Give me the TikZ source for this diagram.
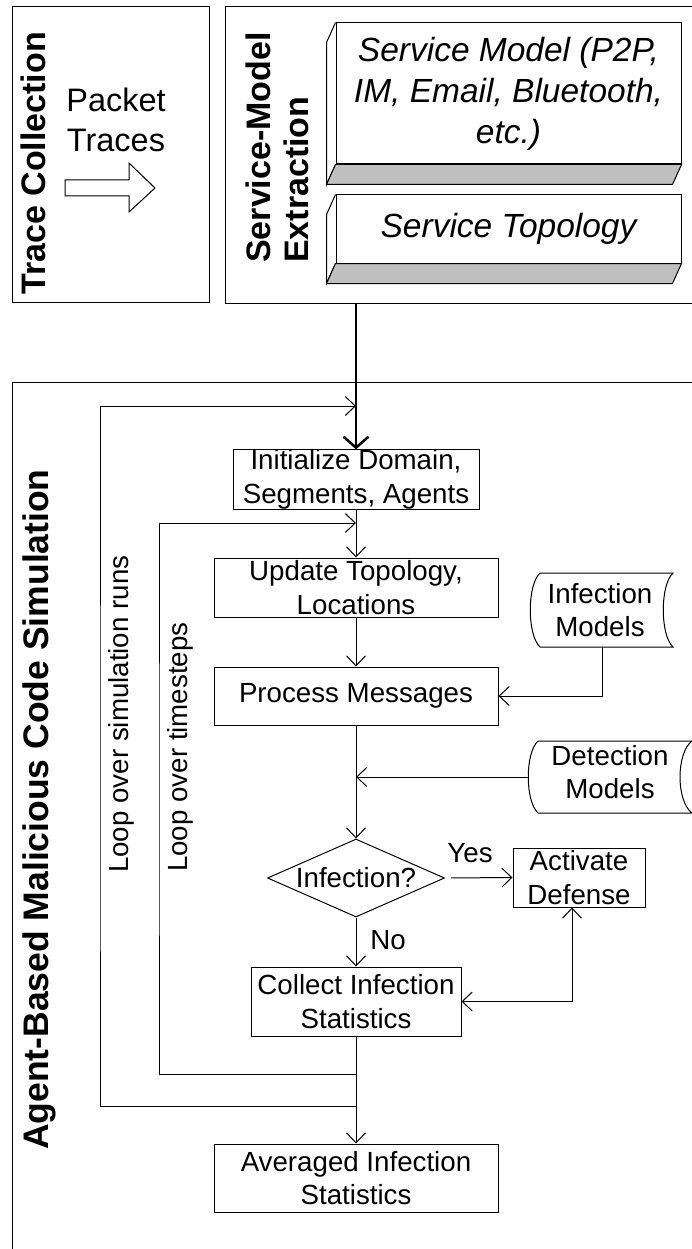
\documentclass[tikz,border=0pt]{standalone}
\usepackage{fontspec}
\setmainfont{Liberation Sans}
\usetikzlibrary{arrows.meta,shapes.geometric,calc}
\newcommand\fsMain{\fontsize{27.7}{33.5}\selectfont}
\newcommand\fsTitle{\fontsize{34}{40}\selectfont\bfseries}
\newcommand\fsBig{\fontsize{35.5}{42}\selectfont\bfseries}
\newcommand\fsIt{\fontsize{33.5}{41}\selectfont\itshape}
\newcommand\fsPkt{\fontsize{32.5}{40}\selectfont}
\definecolor{facegray}{HTML}{C0C0C0}
\begin{document}
\begin{tikzpicture}[x=1pt,y=-1pt,
  >={Straight Barb[length=10pt,width=19pt]},
  line/.style={line width=1pt, draw=black},
  box/.style={draw, line width=1pt, inner sep=0pt, align=center, font=\fsMain},
  arr/.style={line width=1pt, ->},
  thickarr/.style={line width=2.5pt, -{Straight Barb[length=11pt,width=25pt]}},
  vtitle/.style={rotate=90, anchor=base west, inner sep=0pt},
  lbl/.style={inner sep=0pt, font=\fsMain},
  face/.style={draw, line width=1pt, fill=white, inner sep=0pt, align=center, font=\fsIt},
]
\clip (0,0) rectangle (692,1249);
% panels
\draw[line] (12,7) rectangle (209,302);
\draw[line] (225,7) rectangle (760,303);
\draw[line] (12,382) rectangle (760,1300);

% titles
\node[vtitle, font=\fsTitle] (tc) at (45,295) {Trace Collection};
\node[vtitle, font=\fsTitle] (sme1) at (270,263) {Service-Model};
\node[vtitle, font=\fsTitle] (sme2) at (308,263) {Extraction};
\node[vtitle, font=\fsBig] (abm) at (48,1150) {Agent-Based Malicious Code Simulation};

% packet traces
\node[align=center, font=\fsPkt, inner sep=0pt] (pt) at (116,120) {Packet\\Traces};
\draw[line] (65,180) -- (129,180) -- (129,163) -- (155,188) -- (129,212) -- (129,196) -- (65,196) -- cycle;

% 3D boxes
\node[face, minimum width=345pt, minimum height=141pt] (sm) at (508.5,93.5) {Service Model (P2P,\\IM, Email, Bluetooth,\\etc.)};
\draw[line] (sm.north west) -- ++(-9,20) -- ($(sm.south west)+(-9,20)$) -- (sm.south west);
\filldraw[line, fill=facegray] (sm.south west) -- (sm.south east) -- ++(-9,20) -- ($(sm.south west)+(-9,20)$) -- cycle;

\node[face, minimum width=345pt, minimum height=68pt] (st) at (508.5,229) {Service Topology};
\draw[line] (st.north west) -- ++(-9,20) -- ($(st.south west)+(-9,20)$) -- (st.south west);
\filldraw[line, fill=facegray] (st.south west) -- (st.south east) -- ++(-9,20) -- ($(st.south west)+(-9,20)$) -- cycle;

% flow nodes
\node[box, minimum width=246pt, minimum height=59pt] (init) at (356,479.5) {Initialize Domain,\\Segments, Agents};
\node[box, minimum width=284pt, minimum height=59pt] (upd) at (356,587.5) {Update Topology,\\Locations};
\node[box, minimum width=284pt, minimum height=58pt] (proc) at (356,696) {Process Messages};
\node[draw, line width=1pt, diamond, aspect=2.27, minimum width=177pt, minimum height=78pt, inner sep=0pt, font=\fsMain] (dia) at (356,878) {Infection?};
\node[box, minimum width=132pt, minimum height=59pt] (act) at (579,877.5) {Activate\\Defense};
\node[box, minimum width=210pt, minimum height=69pt] (coll) at (356,1001.5) {Collect Infection\\Statistics};
\node[box, minimum width=284pt, minimum height=68pt] (avg) at (356,1178) {Averaged Infection\\Statistics};

% stored data shapes
\draw[line] (540,573) -- (673,573) .. controls +(-13,12) and +(-13,-12) .. (673,647) -- (540,647) .. controls +(-13,-12) and +(-13,12) .. (540,573);
\node[lbl, align=center, minimum height=74pt] (inf) at (600,610) {Infection\\Models};
\draw[line] (538,741) -- (692,741) .. controls +(-16,12) and +(-16,-12) .. (692,813) -- (538,813) .. controls +(-13,-12) and +(-13,12) .. (538,741);
\node[lbl, align=center] (det) at (610,772) {Detection\\Models};

% labels
\node[lbl] (yes) at (470,853) {Yes};
\node[lbl] (no) at (388,940) {No};
\node[vtitle, font=\fsMain] (lsr) at (128,873) {Loop over simulation runs};
\node[vtitle, font=\fsMain] (lts) at (187,872) {Loop over timesteps};

% coordinates
\coordinate (smebot) at (356,303);
\coordinate (jout) at (356,406);
\coordinate (jin) at (356,523);
\coordinate (jdet) at (356,777);
\coordinate (detw) at (528,777);
\coordinate (j1) at (356,1074);
\coordinate (j2) at (356,1106);
\coordinate (lin) at (159,800);
\coordinate (lout) at (100,800);

% connectors
\draw[thickarr] (smebot) -- (init.north);
\draw[arr] (init) -- (upd);
\draw[arr] (upd) -- (proc);
\draw[arr] (proc) -- (dia);
\draw[arr] (dia) -- (coll);
\draw[arr] (coll) -- (avg);
\draw[arr] (j1) -| (lin) |- (jin);
\draw[arr] (j2) -| (lout) |- (jout);
\draw[arr] ([xshift=2pt]inf.south) |- (proc.east);
\draw[arr] (detw) -- (jdet);
\draw[arr, shorten <=6pt] (dia.east) -- (act.west);
\draw[line width=1pt, <->] ([xshift=-7pt]act.south) |- (coll.east);
\end{tikzpicture}
\end{document}
